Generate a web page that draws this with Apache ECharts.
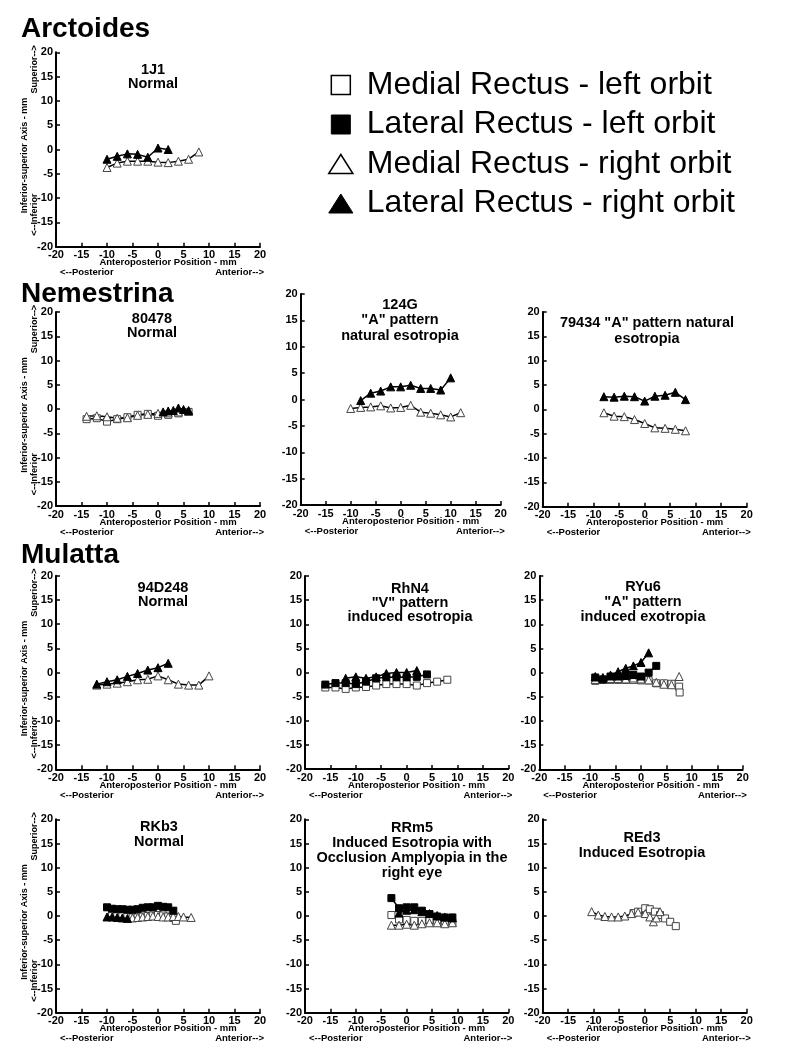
<!DOCTYPE html>
<html>
<head>
<meta charset="utf-8">
<script src="https://cdn.jsdelivr.net/npm/echarts@6/dist/echarts.min.js"></script>
<style>
html, body { margin: 0; padding: 0; background: #fff; }
#main { width: 788px; height: 1063px; }
</style>
</head>
<body>
<div id="main"></div>
<script>
// axis range / ticks (mm)
const axisMin = -20;
const axisMax = 20;
const axisStep = 5;

// legend names
const MR_L = "Medial Rectus - left orbit";
const LR_L = "Lateral Rectus - left orbit";
const MR_R = "Medial Rectus - right orbit";
const LR_R = "Lateral Rectus - right orbit";

// ---- Arctoides 1J1
const j1_MRr = [[-10,-3.7],[-8,-2.8],[-6,-2.4],[-4,-2.4],[-2,-2.4],[0,-2.6],[2,-2.7],[4,-2.4],[6,-2.0],[8,-0.5]];
const j1_LRr = [[-10,-2.0],[-8,-1.4],[-6,-0.9],[-4,-1.0],[-2,-1.6],[0,0.3],[2,0.0]];

// ---- Nemestrina 80478
const n80_MRl = [[-14,-2.1],[-12,-1.9],[-10,-2.6],[-8,-2.1],[-6,-1.7],[-4,-1.2],[-2,-1.0],[0,-1.4],[2,-1.2],[4,-0.9],[6,-0.6]];
const n80_MRr = [[-14,-1.5],[-12,-1.4],[-10,-1.6],[-8,-1.9],[-6,-1.8],[-4,-1.3],[-2,-1.1],[0,-0.9],[2,-0.8],[4,-0.6],[6,-0.5]];
const n80_LRr = [[1,-0.6],[2,-0.4],[3,-0.3],[4,0.2],[5,-0.1],[6,-0.3]];

// ---- Nemestrina 124G
const g124_MRr = [[-10,-1.7],[-8,-1.5],[-6,-1.4],[-4,-1.2],[-2,-1.6],[0,-1.5],[2,-1.1],[4,-2.4],[6,-2.6],[8,-2.9],[10,-3.3],[12,-2.5]];
const g124_LRr = [[-8,-0.2],[-6,1.2],[-4,1.6],[-2,2.4],[0,2.4],[2,2.7],[4,2.1],[6,2.1],[8,1.8],[10,4.1]];

// ---- Nemestrina 79434
const s79_MRr = [[-8,-0.7],[-6,-1.4],[-4,-1.5],[-2,-2.1],[0,-2.9],[2,-3.8],[4,-3.9],[6,-4.1],[8,-4.4]];
const s79_LRr = [[-8,2.6],[-6,2.5],[-4,2.7],[-2,2.6],[0,1.7],[2,2.7],[4,2.9],[6,3.5],[8,2.0]];

// ---- Mulatta 94D248
const d94_MRr = [[-12,-2.6],[-10,-2.4],[-8,-2.2],[-6,-1.9],[-4,-1.5],[-2,-1.4],[0,-0.7],[2,-1.5],[4,-2.4],[6,-2.6],[8,-2.6],[10,-0.7]];
const d94_LRr = [[-12,-2.4],[-10,-1.9],[-8,-1.5],[-6,-0.8],[-4,-0.2],[-2,0.5],[0,1.0],[2,1.9]];

// ---- Mulatta RhN4
const h4_MRl = [[-16,-3.1],[-14,-3.1],[-12,-3.4],[-10,-3.1],[-8,-3.0],[-6,-2.7],[-4,-2.4],[-2,-2.4],[0,-2.4],[2,-2.7],[4,-2.2],[6,-1.9],[8,-1.5]];
const h4_LRl = [[-16,-2.5],[-14,-2.2],[-12,-2.2],[-10,-2.4],[-8,-1.9],[-6,-1.2],[-4,-1.0],[-2,-1.0],[0,-1.0],[2,-0.9],[4,-0.4]];
const h4_LRr = [[-12,-1.2],[-10,-0.9],[-8,-1.2],[-6,-0.9],[-4,-0.2],[-2,0.0],[0,0.0],[2,0.4]];

// ---- Mulatta RYu6
const u6_MRl = [[-9,-1.7],[-7.5,-1.5],[-6,-1.5],[-4.5,-1.5],[-3,-1.5],[-1.5,-1.5],[0,-1.6],[1.5,-1.6],[3,-2.2],[4.5,-2.2],[6,-2.3],[7.5,-2.9],[7.6,-4.1]];
const u6_MRr = [[-9,-1.4],[-7.5,-1.3],[-6,-1.2],[-4.5,-1.2],[-3,-1.3],[-1.5,-1.1],[0,-1.3],[1.5,-1.5],[3,-2.0],[4.5,-2.4],[6,-2.5],[7.5,-0.8]];
const u6_LRl = [[-9,-1.0],[-7.5,-1.4],[-6,-0.8],[-4.5,-0.8],[-3,-0.7],[-1.5,-0.5],[0,-0.8],[1.5,0.0],[3,1.4]];
const u6_LRr = [[-9,-0.8],[-7.5,-1.0],[-6,-0.5],[-4.5,0.2],[-3,0.9],[-1.5,1.4],[0,2.1],[1.5,4.1]];

// ---- Mulatta RKb3
const b3_MRl = [[-9,0.3],[-8,0.2],[-7,0.1],[-6,-0.1],[-5,-0.3],[-4,-0.3],[-3,-0.1],[-2,0.0],[-1,0.1],[0,0.2],[1,0.1],[2,-0.1],[3,-0.4],[3.5,-1.0]];
const b3_MRr = [[-5,-0.4],[-4,-0.3],[-3,-0.2],[-2,-0.1],[-1,0.0],[0,-0.1],[1,-0.2],[2,-0.2],[3,-0.1],[4,-0.1],[5,-0.2],[6.5,-0.3]];
const b3_LRl = [[-10,1.8],[-9,1.5],[-8,1.4],[-7,1.4],[-6,1.3],[-5,1.3],[-4,1.4],[-3,1.7],[-2,1.8],[-1,1.8],[0,2.1],[1,1.9],[2,1.8],[3,1.1]];
const b3_LRr = [[-10,-0.2],[-9,-0.2],[-8,-0.3],[-7,-0.4],[-6,-0.5]];

// ---- Mulatta RRm5
const m5_MRl = [[-3,0.2],[-1.5,-0.7],[0,-0.8],[1.5,-1.0],[3,-1.0],[4.5,-0.8],[6,-1.0],[7.5,-1.2],[9,-1.4]];
const m5_MRr = [[-3,-1.9],[-1.5,-1.9],[0,-1.7],[1.5,-1.9],[3,-1.6],[4.5,-1.4],[6,-1.4],[7.5,-1.6],[9,-1.4]];
const m5_LRl = [[-3,3.7],[-1.5,1.6],[0,1.8],[1.5,1.8],[3,1.1],[4.5,0.4],[6,-0.1],[7.5,-0.3],[9,-0.3]];
const m5_LRr = [[-1.5,0.6],[0,1.2],[1.5,1.3],[3,0.9],[4.5,0.5],[6,0.1],[7.5,-0.2],[9,-0.4]];

// ---- Mulatta REd3
const e3_MRl = [[-2.2,0.6],[-1.3,0.9],[0.1,1.6],[1.0,1.4],[2.0,0.9],[3.0,0.2],[4.0,-0.5],[5.0,-1.2],[6.1,-2.1]];
const e3_MRr = [[-10.4,0.9],[-9.1,0.2],[-7.8,-0.1],[-6.5,-0.2],[-5.2,-0.2],[-3.9,0.0],[-2.6,0.5],[-1.3,0.8],[0.1,0.5],[1.0,-0.2],[1.7,-1.2],[2.3,-0.4],[3.0,0.9]];

// panel layout: [left, right, top, bottom] of plot area in px
const panels = [
  { box: [56, 260, 52.3, 246.7], title: "1J1\nNormal", tx: 153, ty: 62.5, lh: 14, yName: true,
    data: { MRr: j1_MRr, LRr: j1_LRr } },
  { box: [56, 260, 312, 506], title: "80478\nNormal", tx: 152, ty: 312, lh: 14, yName: true,
    data: { MRl: n80_MRl, MRr: n80_MRr, LRr: n80_LRr } },
  { box: [300.7, 500.7, 294, 505], title: "124G\n\"A\" pattern\nnatural esotropia", tx: 400, ty: 297, lh: 15.5,
    data: { MRr: g124_MRr, LRr: g124_LRr } },
  { box: [542.7, 746.7, 312, 506.7], title: "79434 \"A\" pattern natural\nesotropia", tx: 647, ty: 315, lh: 16,
    data: { MRr: s79_MRr, LRr: s79_LRr } },
  { box: [56, 260, 575.7, 769.3], title: "94D248\nNormal", tx: 163, ty: 581, lh: 14, yName: true,
    data: { MRr: d94_MRr, LRr: d94_LRr } },
  { box: [305, 508.3, 576, 769], title: "RhN4\n\"V\" pattern\ninduced esotropia", tx: 410, ty: 582, lh: 14,
    data: { MRl: h4_MRl, LRl: h4_LRl, LRr: h4_LRr } },
  { box: [539.3, 742.7, 576, 769.3], title: "RYu6\n\"A\" pattern\ninduced exotropia", tx: 643, ty: 579, lh: 15,
    data: { MRl: u6_MRl, MRr: u6_MRr, LRl: u6_LRl, LRr: u6_LRr } },
  { box: [56, 260, 819.3, 1012.7], title: "RKb3\nNormal", tx: 159, ty: 820, lh: 14.7, yName: true,
    data: { MRl: b3_MRl, MRr: b3_MRr, LRl: b3_LRl, LRr: b3_LRr } },
  { box: [305, 508.3, 819.3, 1012.7], title: "RRm5\nInduced Esotropia with\nOcclusion Amplyopia in the\nright eye", tx: 412, ty: 821, lh: 14.8,
    data: { MRl: m5_MRl, MRr: m5_MRr, LRl: m5_LRl, LRr: m5_LRr } },
  { box: [542.7, 746.7, 819.3, 1012.7], title: "REd3\nInduced Esotropia", tx: 642, ty: 830, lh: 15,
    data: { MRl: e3_MRl, MRr: e3_MRr } }
];

const FONT = "'Liberation Sans', Arial, Helvetica, sans-serif";

const seriesStyle = {
  MRl: { name: MR_L, symbol: "rect", size: 7, open: true },
  LRl: { name: LR_L, symbol: "rect", size: 7, open: false },
  MRr: { name: MR_R, symbol: "triangle", size: 8, open: true },
  LRr: { name: LR_R, symbol: "triangle", size: 8, open: false }
};

const grids = [], xAxes = [], yAxes = [], series = [], titles = [], graphics = [];

const axisCommon = {
  type: "value",
  min: axisMin,
  max: axisMax,
  interval: axisStep,
  axisLine: { onZero: false, lineStyle: { color: "#000", width: 2 } },
  axisTick: { inside: true, length: 4, lineStyle: { color: "#000", width: 1.5 } },
  axisLabel: { color: "#000", fontSize: 11, fontWeight: "bold", fontFamily: FONT, margin: 3 },
  splitLine: { show: false }
};

function txt(text, x, y, size, align, rot) {
  return {
    type: "text", x: x, y: y, rotation: rot || 0, silent: true,
    style: { text: text, fill: "#000", font: "bold " + size + "px " + FONT, align: align || "center", verticalAlign: "middle" }
  };
}

panels.forEach((p, i) => {
  const [x0, x1, y0, y1] = p.box;
  grids.push({ left: x0, top: y0, width: x1 - x0, height: y1 - y0 });
  xAxes.push(Object.assign({ gridIndex: i }, axisCommon));
  yAxes.push(Object.assign({ gridIndex: i }, axisCommon));

  ["MRl", "MRr", "LRl", "LRr"].forEach((k) => {
    if (!p.data[k]) return;
    const s = seriesStyle[k];
    series.push({
      type: "line",
      name: s.name,
      xAxisIndex: i,
      yAxisIndex: i,
      data: p.data[k],
      symbol: s.symbol,
      symbolSize: s.size,
      showAllSymbol: true,
      silent: true,
      lineStyle: { color: "#000", width: 1.5 },
      itemStyle: s.open
        ? { color: "#fff", borderColor: "#444", borderWidth: 1 }
        : { color: "#000", borderColor: "#000", borderWidth: 1 },
      z: s.open ? 2 : 3
    });
  });

  titles.push({
    text: p.title, left: p.tx, top: p.ty, textAlign: "center", padding: 0,
    textStyle: { fontFamily: FONT, fontWeight: "bold", fontSize: 14.5, lineHeight: p.lh, color: "#000" }
  });

  graphics.push(txt("Anteroposterior Position - mm", (x0 + x1) / 2 + 10, y1 + 16, 9.5));
  graphics.push(txt("<--Posterior", x0 + 4, y1 + 26, 9.5, "left"));
  graphics.push(txt("Anterior-->", x1 + 4, y1 + 26, 9.5, "right"));

  if (p.yName) {
    graphics.push(txt("Inferior-superior Axis - mm", 25, (y0 + y1) / 2 + 6, 9, "center", Math.PI / 2));
    graphics.push(txt("Superior-->", 34.5, y0 + 17, 9, "center", Math.PI / 2));
    graphics.push(txt("<--Inferior", 34.5, y1 - 32, 9, "center", Math.PI / 2));
  }
});

// section headings
[["Arctoides", 15], ["Nemestrina", 280], ["Mulatta", 541]].forEach(([t, top]) => {
  titles.push({ text: t, left: 21, top: top, padding: 0,
    textStyle: { fontFamily: FONT, fontWeight: "bold", fontSize: 28, lineHeight: 28, color: "#000" } });
});

const SQ = "path://M0,0L1,0L1,1L0,1Z";
const TRI = "path://M0.635,0L1.27,1L0,1Z";

const option = {
  animation: false,
  backgroundColor: "#fff",
  title: titles,
  legend: {
    left: 328,
    top: 69,
    orient: "vertical",
    padding: 0,
    itemWidth: 42,
    itemHeight: 19,
    itemGap: 7.5,
    selectedMode: false,
    textStyle: { fontFamily: FONT, fontSize: 32, color: "#000" },
    data: [
      { name: MR_L, icon: SQ, itemStyle: { color: "#fff", borderColor: "#000", borderWidth: 1.5 } },
      { name: LR_L, icon: SQ, itemStyle: { color: "#000", borderColor: "#000", borderWidth: 1 } },
      { name: MR_R, icon: TRI, itemStyle: { color: "#fff", borderColor: "#000", borderWidth: 1.5 } },
      { name: LR_R, icon: TRI, itemStyle: { color: "#000", borderColor: "#000", borderWidth: 1 } }
    ]
  },
  grid: grids,
  xAxis: xAxes,
  yAxis: yAxes,
  series: series,
  graphic: graphics
};

const myChart = echarts.init(document.getElementById("main"));
myChart.setOption(option);
</script>
</body>
</html>
